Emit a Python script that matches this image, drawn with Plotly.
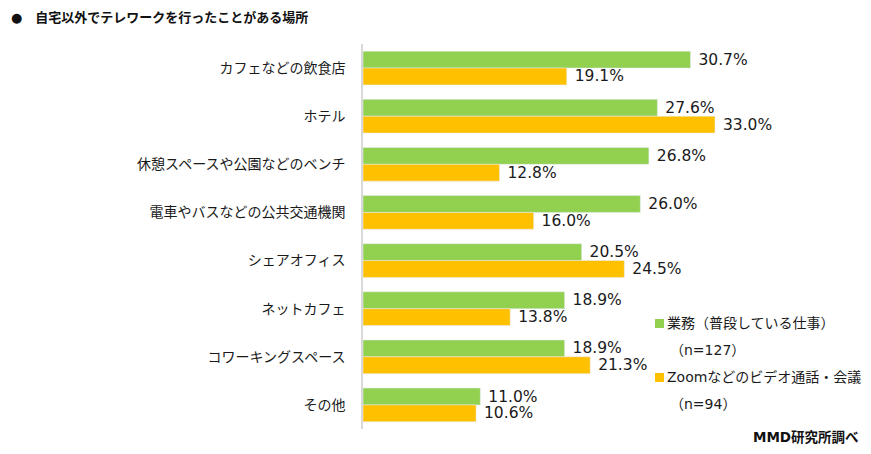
import plotly.graph_objects as go

categories = ["カフェなどの飲食店", "ホテル", "休憩スペースや公園などのベンチ", "電車やバスなどの公共交通機関",
              "シェアオフィス", "ネットカフェ", "コワーキングスペース", "その他"]
work_values = [30.7, 27.6, 26.8, 26.0, 20.5, 18.9, 18.9, 11.0]
zoom_values = [19.1, 33.0, 12.8, 16.0, 24.5, 13.8, 21.3, 10.6]
series_names = ["業務（普段している仕事）", "Zoomなどのビデオ通話・会議"]
series_n = ["（n=127）", "（n=94）"]
colors = ["#92D050", "#FFC000"]

FONT = "'DejaVu Sans', 'Noto Sans CJK JP', sans-serif"
TXT = "#1a1a1a"

W, H = 871, 454
L, R, T, B = 363, 8, 44, 25
PW, PH = W - L - R, H - T - B


def px(x):
    return (x - L) / PW


def py(y):
    return 1 - (y - T) / PH


fig = go.Figure()
for vals, name, col in zip([work_values, zoom_values], series_names, colors):
    fig.add_trace(go.Bar(y=categories, x=vals, orientation="h", name=name,
                         marker_color=col, text=[f" {v:.1f}%" for v in vals],
                         textposition="outside", constraintext="none",
                         textfont=dict(size=15.5, color=TXT, family=FONT), cliponaxis=False))

annotations = [
    dict(text="<b>●　自宅以外でテレワークを行ったことがある場所</b>", x=px(9), y=py(18),
         xref="paper", yref="paper", xanchor="left", yanchor="middle", showarrow=False,
         font=dict(size=13, color="#111111")),
    dict(text="<b>MMD研究所調べ</b>", x=px(861), y=py(437), xref="paper", yref="paper",
         xanchor="right", yanchor="middle", showarrow=False, font=dict(size=13.5, color="#111111")),
]
shapes = []
leg_y = [323, 377]
for i in range(2):
    annotations.append(dict(text=series_names[i], x=px(665), y=py(leg_y[i]), xref="paper", yref="paper",
                            xanchor="left", yanchor="middle", showarrow=False, font=dict(size=14, color=TXT)))
    annotations.append(dict(text=series_n[i], x=px(668), y=py(leg_y[i] + 27), xref="paper", yref="paper",
                            xanchor="left", yanchor="middle", showarrow=False, font=dict(size=14, color=TXT)))
    shapes.append(dict(type="rect", xref="paper", yref="paper", x0=px(655), x1=px(664),
                       y0=py(leg_y[i] + 5), y1=py(leg_y[i] - 4),
                       fillcolor=colors[i], line=dict(width=0)))

fig.update_layout(
    width=W, height=H,
    margin=dict(l=L, r=R, t=T, b=B, autoexpand=False),
    barmode="group", bargap=0.3, bargroupgap=0,
    plot_bgcolor="white", paper_bgcolor="white",
    font=dict(family=FONT, size=13, color=TXT),
    showlegend=False,
    xaxis=dict(range=[0, 46.875], showgrid=False, showticklabels=False, zeroline=False, showline=False,
               automargin=False),
    yaxis=dict(autorange="reversed", showline=True, linecolor="#D9D9D9", linewidth=1.5, automargin=False,
               ticks="", ticklabelstandoff=13, tickfont=dict(size=14, color=TXT)),
    annotations=annotations,
    shapes=shapes,
)

fig.write_html("out.html", config={"displayModeBar": False},
               post_script="document.body.style.margin='0px';")
